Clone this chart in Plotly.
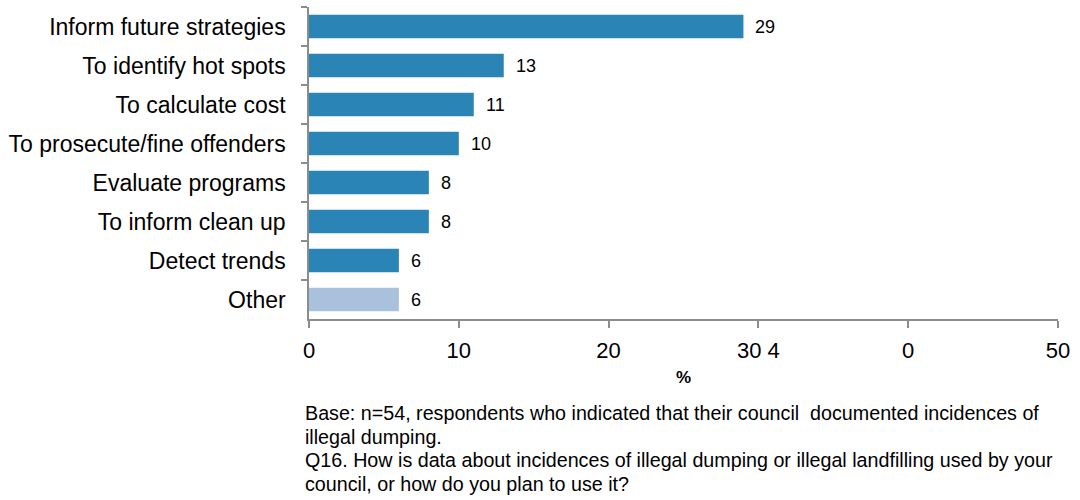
import plotly.graph_objects as go

categories = ["Inform future strategies", "To identify hot spots", "To calculate cost",
              "To prosecute/fine offenders", "Evaluate programs", "To inform clean up",
              "Detect trends", "Other"]
values = [29, 13, 11, 10, 8, 8, 6, 6]
tick_vals = [0, 10, 20, 30, 40, 50]
tick_text = ["0", "10", "20", "30 4", "0", "50"]
footnote_lines = [
    "Base: n=54, respondents who indicated that their council  documented incidences of",
    "illegal dumping.",
    "Q16. How is data about incidences of illegal dumping or illegal landfilling used by your",
    "council, or how do you plan to use it?",
]

BLUE = "#2A84B6"
LIGHT = "#AAC1DE"
colors = [LIGHT if c == "Other" else BLUE for c in categories]
FONT = "Liberation Sans, Arial, sans-serif"

plot_top, plot_bottom, plot_left, plot_right = 7, 319, 308.5, 1058.5

def py(px):
    return (plot_bottom - px) / (plot_bottom - plot_top)

def pxx(px):
    return (px - plot_left) / (plot_right - plot_left)

fig = go.Figure()
fig.add_trace(go.Bar(
    x=values, y=categories, orientation="h",
    marker=dict(color=colors, line=dict(width=0)),
    width=0.6, hoverinfo="x+y",
))

for c, v in zip(categories, values):
    fig.add_annotation(x=v, y=c, xref="x", yref="y", text=str(v), showarrow=False,
                       xanchor="left", xshift=10, font=dict(size=18, color="#000", family=FONT))

for i, line in enumerate(footnote_lines):
    fig.add_annotation(x=pxx(302), xref="paper", y=py(413 + i * 23.5), yref="paper",
                       text=line, showarrow=False, xanchor="left", yanchor="middle",
                       font=dict(size=19.7, color="#000", family=FONT))

fig.add_annotation(x=pxx(683), xref="paper", y=py(377), yref="paper",
                   text="<b>%</b>", showarrow=False, xanchor="center", yanchor="middle",
                   font=dict(size=17, color="#000", family=FONT))

fig.update_layout(
    width=1080, height=500,
    margin=dict(l=plot_left, r=1080 - plot_right, t=plot_top, b=500 - plot_bottom, autoexpand=False),
    paper_bgcolor="white", plot_bgcolor="white",
    showlegend=False,
    font=dict(family=FONT, color="#000"),
    xaxis=dict(range=[0, 50], tickvals=tick_vals, ticktext=tick_text,
               showgrid=False, zeroline=False, showline=True, linecolor="#8c8c8c", linewidth=1.5,
               ticks="outside", ticklen=7, tickcolor="#8c8c8c", tickwidth=1.5,
               tickfont=dict(size=22, family=FONT, color="#000"), ticklabelstandoff=4),
    yaxis=dict(categoryorder="array", categoryarray=categories, autorange="reversed",
               showgrid=False, zeroline=False, showline=True, linecolor="#8c8c8c", linewidth=1.5,
               ticks="outside", ticklen=6, tickcolor="#8c8c8c", tickwidth=1.5, tickson="boundaries",
               tickfont=dict(size=23, family=FONT, color="#000"), ticklabelstandoff=17),
)

fig.write_html("out.html", post_script="document.body.style.margin='0';",
               config={"displayModeBar": False})
